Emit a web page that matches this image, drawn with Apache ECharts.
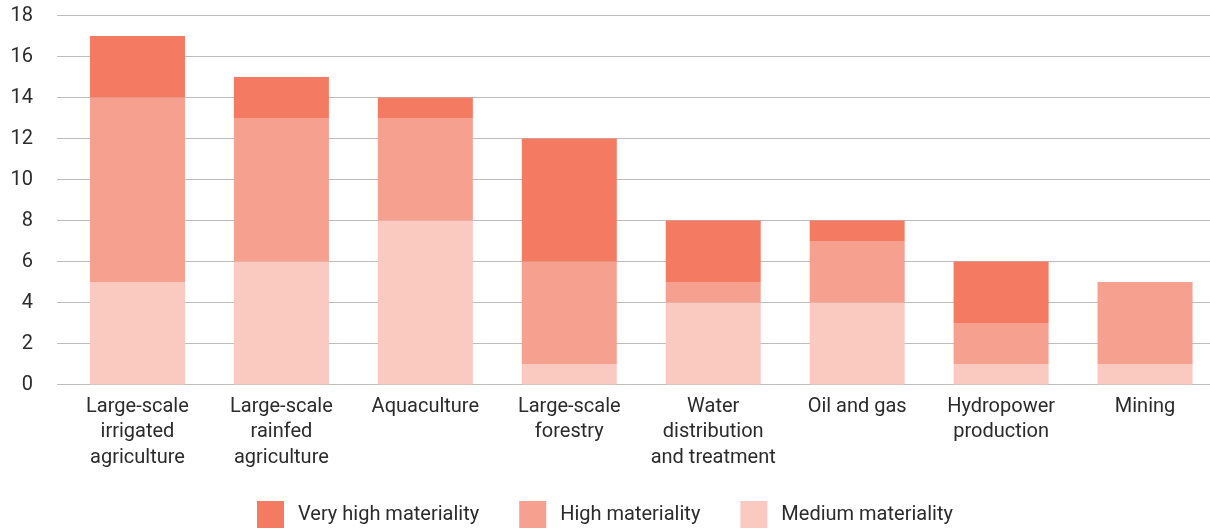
<!DOCTYPE html>
<html>
<head>
<meta charset="utf-8">
<script src="https://cdn.jsdelivr.net/npm/echarts@6/dist/echarts.min.js"></script>
<style>
  html, body { margin: 0; padding: 0; background: #fff; overflow: hidden; }
  #chart { width: 1217px; height: 529px; }
</style>
</head>
<body>
<div id="chart"></div>
<script>
// Sectors and number of dependencies per materiality level
const categories = [
  'Large-scale\nirrigated\nagriculture',
  'Large-scale\nrainfed\nagriculture',
  'Aquaculture',
  'Large-scale\nforestry',
  'Water\ndistribution\nand treatment',
  'Oil and gas',
  'Hydropower\nproduction',
  'Mining'
];
const mediumMateriality   = [5, 6, 8, 1, 4, 4, 1, 1];
const highMateriality     = [9, 7, 5, 5, 1, 3, 2, 4];
const veryHighMateriality = [3, 2, 1, 6, 3, 1, 3, 0];

const yMin = 0, yMax = 18, yStep = 2;

const FONT = 'Roboto';
const TEXT = '#2b2b2b';

const chart = echarts.init(document.getElementById('chart'), null, { renderer: 'canvas' });

chart.setOption({
  animation: false,
  textStyle: { fontFamily: FONT },
  legend: {
    top: 501,
    left: 257,
    padding: 0,
    itemWidth: 27,
    itemHeight: 27,
    itemGap: 40,
    icon: 'rect',
    textStyle: { fontSize: 20, color: TEXT, fontFamily: FONT, padding: [0, 0, 0, 9] },
    data: ['Very high materiality', 'High materiality', 'Medium materiality']
  },
  grid: [
    // gridlines and value labels
    { left: 57, right: 0, top: 15.5, height: 369, containLabel: false },
    // bars and category labels
    { left: 65.5, right: 0, top: 15.5, height: 369, containLabel: false }
  ],
  xAxis: [
    { gridIndex: 0, type: 'value', min: 0, max: 1, show: false },
    {
      gridIndex: 1,
      type: 'category',
      data: categories,
      axisLine: { show: false },
      axisTick: { show: false },
      axisLabel: {
        interval: 0,
        margin: 9.5,
        fontSize: 20,
        lineHeight: 25.5,
        color: TEXT,
        fontFamily: FONT
      }
    }
  ],
  yAxis: [
    {
      gridIndex: 0,
      type: 'value',
      min: yMin,
      max: yMax,
      interval: yStep,
      axisLine: { show: false },
      axisTick: { show: false },
      axisLabel: { margin: 24, fontSize: 20, color: TEXT, fontFamily: FONT },
      splitLine: { lineStyle: { color: '#bdbdbd', width: 1 } }
    },
    {
      gridIndex: 1,
      type: 'value',
      min: yMin,
      max: yMax,
      interval: yStep,
      show: false,
      splitLine: { show: false }
    }
  ],
  series: [
    {
      name: 'Medium materiality',
      type: 'bar',
      stack: 'total',
      xAxisIndex: 1,
      yAxisIndex: 1,
      barWidth: '66%',
      itemStyle: { color: '#FAC9C0' },
      data: mediumMateriality
    },
    {
      name: 'High materiality',
      type: 'bar',
      stack: 'total',
      xAxisIndex: 1,
      yAxisIndex: 1,
      barWidth: '66%',
      itemStyle: { color: '#F6A090' },
      data: highMateriality
    },
    {
      name: 'Very high materiality',
      type: 'bar',
      stack: 'total',
      xAxisIndex: 1,
      yAxisIndex: 1,
      barWidth: '66%',
      itemStyle: { color: '#F47A62' },
      data: veryHighMateriality
    }
  ]
});
</script>
</body>
</html>
